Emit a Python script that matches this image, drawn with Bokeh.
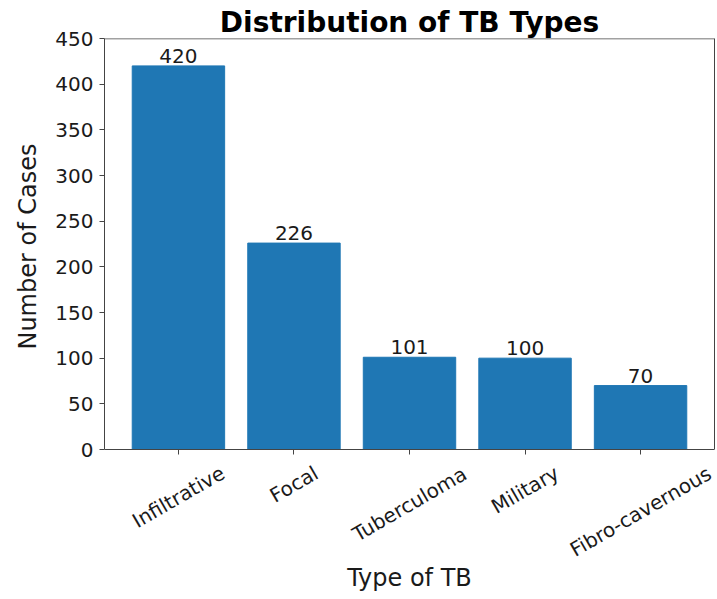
import math
from bokeh.plotting import figure
from bokeh.models import (Range1d, FixedTicker, ColumnDataSource, LabelSet, Label,
                          LinearAxis, Span, Title)
from bokeh.core.properties import value
from bokeh.embed import file_html
from bokeh.resources import INLINE

categories = ["Infiltrative", "Focal", "Tuberculoma", "Military", "Fibro-cavernous"]
counts = [420, 226, 101, 100, 70]
y_ticks = [0, 50, 100, 150, 200, 250, 300, 350, 400, 450]

Y_MAX = 450
FRAME_TOP = 38      # px from top of canvas to the value 450
ZERO_PX = 449       # px from top of canvas to the value 0
CANVAS_H = 599
# extend the range below zero so the rotated category labels live inside the frame
Y_MIN = -(CANVAS_H - ZERO_PX) * Y_MAX / (ZERO_PX - FRAME_TOP)

# approximate DejaVu Sans advance widths (per 1000 em) to center rotated labels like matplotlib
CW = {"I": 295, "n": 634, "f": 352, "i": 278, "l": 278, "t": 392, "r": 411, "a": 613,
      "v": 592, "e": 615, "F": 575, "o": 612, "c": 550, "T": 611, "u": 634, "b": 635,
      "m": 974, "M": 863, "y": 592, "s": 521, "-": 361}
TICK_FS = 20
ang = math.pi / 6


def rot_offset(s):
    w = sum(CW.get(ch, 600) for ch in s) * TICK_FS / 1000.0
    h = TICK_FS * 1.0
    bbox_h = w * math.sin(ang) + h * math.cos(ang)
    return -(5 + 8 + bbox_h / 2.0)


xs = list(range(len(categories)))
src = ColumnDataSource(dict(x=xs, top=counts, lab=[str(c) for c in counts]))

p = figure(width=717, height=CANVAS_H, output_backend="svg", toolbar_location=None,
           x_range=Range1d(-0.64, 4.64), y_range=Range1d(Y_MIN, Y_MAX),
           min_border_left=99, min_border_right=3, min_border_top=FRAME_TOP, min_border_bottom=0)
p.vbar(x="x", top="top", width=0.8, bottom=0, source=src, color="#1f77b4", line_color="#1f77b4")

p.add_layout(LabelSet(x="x", y="top", text="lab", source=src, text_align="center",
                      text_baseline="alphabetic", text_font=value("DejaVu Sans"),
                      text_font_size="20px", text_color="#1a1a1a", y_offset=3))

for xi, name in zip(xs, categories):
    p.add_layout(Label(x=xi, y=0, text=name, text_align="center", text_baseline="middle",
                       angle=ang, y_offset=rot_offset(name),
                       text_font="DejaVu Sans", text_font_size="%dpx" % TICK_FS,
                       text_color="#1a1a1a"))

p.title.text = "Distribution of TB Types"
p.title.text_font = "DejaVu Sans"
p.title.text_font_size = "28px"
p.title.text_font_style = "bold"
p.title.align = "center"
p.title.text_color = "black"
p.title.standoff = 0
p.title.offset = 0

# y-axis title placed along the 0..450 part of the frame
ytitle = Title(text="Number of Cases", align="right", offset=105, vertical_align="bottom",
               standoff=22, text_font="DejaVu Sans", text_font_size="24px",
               text_font_style="normal", text_color="#1a1a1a")
p.add_layout(ytitle, "left")

AX = "#444444"
p.xaxis.fixed_location = 0
p.xaxis.ticker = FixedTicker(ticks=xs)
p.xaxis.major_label_overrides = {i: "" for i in xs}
p.xaxis.major_label_text_font_size = "1px"
p.yaxis.ticker = FixedTicker(ticks=y_ticks)
p.yaxis.bounds = (0, Y_MAX)
p.xaxis.axis_label = "Type of TB"
p.xaxis.axis_label_standoff = 109

for ax in (p.xaxis, p.yaxis):
    ax.axis_label_text_font = "DejaVu Sans"
    ax.axis_label_text_font_size = "24px"
    ax.axis_label_text_font_style = "normal"
    ax.axis_label_text_color = "#1a1a1a"
    ax.major_label_text_font = "DejaVu Sans"
    ax.major_label_text_color = "#1a1a1a"
    ax.axis_line_color = AX
    ax.major_tick_line_color = AX
    ax.major_tick_out = 5
    ax.major_tick_in = 0
    ax.minor_tick_line_color = None
p.yaxis.major_label_text_font_size = "20px"
p.yaxis.major_label_standoff = 6

# right and top spines
right = LinearAxis(ticker=FixedTicker(ticks=[]), bounds=(0, Y_MAX), axis_line_color=AX,
                   major_tick_line_color=None, minor_tick_line_color=None,
                   major_label_text_font_size="0px")
p.add_layout(right, "right")
p.add_layout(Span(location=Y_MAX, dimension="width", line_color=AX, line_width=1.5))

p.grid.visible = False
p.outline_line_color = None
p.background_fill_color = "white"
p.border_fill_color = "white"

open("out.html", "w").write(file_html(p, INLINE))
